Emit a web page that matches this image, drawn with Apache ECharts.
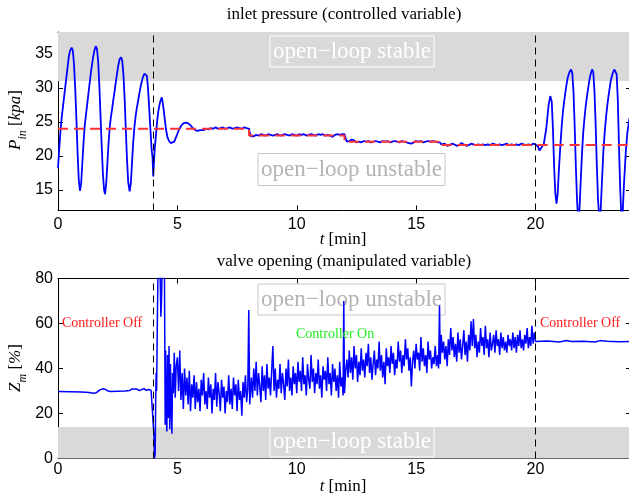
<!DOCTYPE html>
<html><head><meta charset="utf-8">
<script src="https://cdn.jsdelivr.net/npm/echarts@6/dist/echarts.min.js"></script>
<style>html,body{margin:0;padding:0;background:#fff}#c{width:629px;height:497px}</style>
</head><body><div id="c"></div>
<script>
// ---- inlet pressure P_in [kpa] ----
const pinOpenLoop1 = [[0.00,18.2],[0.05,21],[0.10,23.5],[0.15,25.5],[0.20,27],[0.25,28.5],[0.30,30],[0.35,31.5],[0.40,33],[0.45,34.5],[0.50,35.4],[0.57,35.9],[0.62,35.5],[0.67,33.5],[0.72,30],[0.77,25.5],[0.82,20.5],[0.87,16.5],[0.92,14.9],[0.97,16],[1.02,19],[1.07,22],[1.12,24.5],[1.17,26],[1.22,27.5],[1.27,29],[1.32,30.5],[1.37,32],[1.42,33.3],[1.47,34.5],[1.52,35.4],[1.58,36.1],[1.63,35.8],[1.68,34],[1.73,30.5],[1.78,26],[1.83,21.5],[1.88,17.5],[1.93,15],[1.97,14.4],[2.02,16],[2.07,19],[2.12,22],[2.17,24.3],[2.22,25.8],[2.27,27],[2.32,28.3],[2.37,29.5],[2.42,30.8],[2.47,32],[2.52,33.2],[2.58,34.2],[2.64,34.5],[2.69,34],[2.74,32],[2.79,28.5],[2.84,24],[2.89,19.5],[2.94,16.2],[3.00,14.8],[3.05,16],[3.10,19],[3.15,22],[3.20,24.2],[3.25,25.8],[3.30,27],[3.35,28],[3.40,29],[3.45,30],[3.50,30.8],[3.55,31.5],[3.62,32.1],[3.67,32.3],[3.72,31.8],[3.77,30],[3.82,27],[3.87,24],[3.92,21],[3.96,19.8]];
const pinControlled = [[3.99,17],[4.01,18.5],[4.05,21],[4.10,23],[4.15,25],[4.20,26.5],[4.25,27.5],[4.30,28.2],[4.35,28.6],[4.38,28.4],[4.42,27],[4.47,25.5],[4.52,24],[4.58,22.8],[4.65,22.2],[4.72,21.9],[4.80,21.8],[4.87,22.1],[4.95,22.8],[5.05,23.7],[5.15,24.4],[5.25,24.8],[5.35,24.9],[5.45,24.8],[5.55,24.5],[5.65,24.1],[5.75,23.8],[5.85,23.7],[5.95,23.8],
[6.0,23.7],[6.1,23.8],[6.2,24.0],[6.3,23.9],[6.4,24.1],[6.5,24.0],[6.6,24.2],[6.7,24.0],[6.8,24.1],[6.9,24.2],[7.0,24.0],[7.1,24.1],[7.2,24.2],[7.3,24.0],[7.4,24.1],[7.5,24.2],[7.6,24.1],[7.7,24.0],[7.8,24.2],[7.9,24.1],[8.0,24.0],[8.03,23.4],[8.08,22.9],[8.15,23.0],[8.2,22.9],[8.3,23.1],[8.4,23.0],[8.5,23.2],[8.6,23.1],[8.7,23.0],[8.8,23.2],[8.9,23.1],[9.0,23.0],[9.1,23.1],[9.2,23.2],[9.3,23.0],[9.4,23.1],[9.5,23.2],[9.6,23.1],[9.7,23.0],[9.8,23.2],[9.9,23.1],[10.0,23.0],[10.1,23.2],[10.2,23.1],[10.3,23.2],[10.4,23.0],[10.5,23.1],[10.6,23.2],[10.7,23.1],[10.8,23.0],[10.9,23.2],[11.0,23.1],[11.1,23.2],[11.2,23.0],[11.3,23.1],[11.4,23.0],[11.5,22.8],[11.6,23.1],[11.7,23.2],[11.8,23.1],[11.9,23.2],[12.0,23.2],[12.05,22.6],[12.1,22.1],[12.2,22.2],[12.3,22.4],[12.4,22.3],[12.5,22.0],[12.6,22.1],[12.7,22.0],[12.8,22.2],[12.9,22.1],[13.0,22.2],[13.1,22.0],[13.2,22.1],[13.3,22.2],[13.4,22.1],[13.5,22.0],[13.6,22.2],[13.7,22.1],[13.8,22.2],[13.9,22.0],[14.0,22.1],[14.1,22.2],[14.2,22.1],[14.3,22.0],[14.4,22.2],[14.5,22.1],[14.6,22.0],[14.7,21.9],[14.8,21.8],[14.9,22.0],[15.0,22.2],[15.1,22.1],[15.2,22.2],[15.3,22.0],[15.4,22.1],[15.5,22.2],[15.6,22.1],[15.7,22.2],[15.8,22.1],[15.9,22.0],[16.0,22.0],[16.05,21.7],[16.1,21.6],[16.2,21.8],[16.3,21.5],[16.4,21.6],[16.5,21.8],[16.6,21.7],[16.7,21.5],[16.8,21.6],[16.9,21.9],[17.0,21.7],[17.1,21.5],[17.2,21.6],[17.3,21.8],[17.4,21.7],[17.5,21.6],[17.6,21.7],[17.7,21.6],[17.8,21.7],[17.9,21.6],[18.0,21.7],[18.1,21.6],[18.2,21.8],[18.3,21.7],[18.4,21.6],[18.5,21.7],[18.6,21.6],[18.7,21.7],[18.8,21.8],[18.9,21.6],[19.0,21.7],[19.1,21.6],[19.2,21.7],[19.3,21.6],[19.4,21.8],[19.5,21.7],[19.6,21.6],[19.7,21.7],[19.8,21.6],[19.9,21.8],[20.0,21.7]];
const pinOpenLoop2 = [[20.1,21.4],[20.17,20.8],[20.25,20.9],[20.35,21.8],[20.45,24],[20.55,27.5],[20.62,28.8],[20.68,28],[20.73,24],[20.78,18.5],[20.83,14.5],[20.88,13.0],[20.93,14.5],[20.98,18],[21.05,22],[21.1,24.5],[21.15,26.5],[21.2,28],[21.25,29.3],[21.3,30.5],[21.35,31.5],[21.42,32.3],[21.49,32.7],[21.54,32.2],[21.59,29.5],[21.64,24.5],[21.69,18.5],[21.74,13.5],[21.79,10.5],[21.84,12],[21.89,16],[21.95,20.5],[22.0,23.5],[22.05,25.5],[22.1,27.2],[22.15,28.6],[22.2,29.8],[22.25,31],[22.3,31.9],[22.37,32.7],[22.42,32.3],[22.47,29.5],[22.52,24.5],[22.57,18.5],[22.62,13.5],[22.68,10.5],[22.73,12],[22.78,16],[22.84,20.5],[22.9,23.5],[22.95,25.5],[23.0,27.2],[23.05,28.6],[23.1,29.8],[23.15,31],[23.22,32],[23.3,32.7],[23.35,32.8],[23.4,32],[23.45,28],[23.5,21],[23.55,15],[23.6,11],[23.65,11.5],[23.7,15.5],[23.78,20.5],[23.85,23.5],[23.92,25.2],[24.0,26.5]];
const pinSetpoint = [[0,24],[8,24],[8,23],[12,23],[12,22.1],[16,22.1],[16,21.6],[24,21.6]];

// ---- valve opening Z_m [%] ----
const zmOff1 = [[0.0,29.8],[0.5,29.7],[1.0,29.6],[1.3,29.3],[1.5,29.0],[1.6,29.2],[1.75,30.5],[1.9,31.0],[2.0,30.6],[2.1,30.0],[2.2,29.8],[2.5,29.9],[2.8,30.0],[3.0,30.2],[3.1,30.9],[3.15,30.1],[3.3,30.9],[3.4,30.2],[3.5,30.6],[3.6,31.0],[3.7,30.3],[3.8,30.7],[3.9,30.2],[3.98,30.0]];
const zmOn = [[4.00,30],[4.02,10],[4.04,0],[4.07,2],[4.09,25],[4.11,38],[4.13,30],[4.16,60],[4.19,85],[4.23,90],[4.27,86],[4.31,63],[4.34,72],[4.37,90],[4.42,92],[4.46,80],[4.49,15],[4.51,48],[4.53,20],[4.56,12],[4.59,46],[4.62,18],[4.65,50],[4.68,13],[4.71,42],[4.74,24],[4.77,11],[4.80,38],[4.83,29],[4.87,47],[4.91,27],[4.95,41],
[5.00,45],[5.05,30],[5.10,48],[5.15,26],[5.20,38],[5.25,22],[5.30,40],[5.35,28],[5.40,36],[5.45,24],[5.50,39],[5.55,21],[5.60,33],[5.65,27],[5.70,37],[5.75,22],[5.80,34],[5.85,25],[5.90,31],[5.95,21],[6.00,35],[6.05,28],[6.10,38],[6.15,24],[6.20,30],[6.25,22],[6.30,36],[6.35,27],[6.40,33],[6.45,20],[6.50,31],[6.55,26],[6.60,38],[6.65,23],[6.70,34],[6.75,29],[6.80,21],[6.85,35],[6.90,27],[6.95,32],[7.00,20],[7.05,30],[7.10,25],[7.15,37],[7.20,24],[7.25,31],[7.30,22],[7.35,36],[7.40,28],[7.45,33],[7.50,21],[7.55,35],[7.60,26],[7.65,30],[7.70,19],[7.75,34],[7.80,27],[7.85,37],[7.90,25],[7.95,31],[7.99,66],[8.03,24],[8.10,36],[8.15,27],[8.20,40],[8.25,30],[8.30,43],[8.35,28],[8.40,38],[8.45,32],[8.50,25],[8.55,41],[8.60,30],[8.65,37],[8.70,26],[8.75,42],[8.80,31],[8.85,36],[8.90,28],[8.95,39],[9.00,50],[9.05,30],[9.10,40],[9.15,27],[9.20,35],[9.25,31],[9.30,42],[9.35,29],[9.40,38],[9.45,33],[9.50,26],[9.55,40],[9.60,32],[9.65,44],[9.70,30],[9.75,36],[9.80,28],[9.85,41],[9.90,33],[9.95,38],[10.00,29],[10.05,43],[10.10,34],[10.15,39],[10.20,30],[10.25,45],[10.30,33],[10.35,37],[10.40,28],[10.45,42],[10.50,35],[10.55,31],[10.60,46],[10.65,34],[10.70,40],[10.75,29],[10.80,38],[10.85,33],[10.90,44],[10.95,31],[11.00,37],[11.05,27],[11.10,41],[11.15,35],[11.20,39],[11.25,30],[11.30,45],[11.35,33],[11.40,38],[11.45,28],[11.50,42],[11.55,34],[11.60,40],[11.65,30],[11.70,37],[11.75,27],[11.80,43],[11.85,32],[11.90,36],[11.94,28],[11.97,70],[12.00,29],[12.05,39],[12.10,44],[12.15,36],[12.20,48],[12.25,38],[12.30,45],[12.35,35],[12.40,50],[12.45,40],[12.50,46],[12.55,34],[12.60,43],[12.65,37],[12.70,49],[12.75,39],[12.80,44],[12.85,36],[12.90,47],[12.95,41],[13.00,51],[13.05,38],[13.10,45],[13.15,35],[13.20,42],[13.25,48],[13.30,37],[13.35,44],[13.40,40],[13.45,52],[13.50,39],[13.55,46],[13.60,36],[13.65,43],[13.70,33],[13.75,49],[13.80,41],[13.85,45],[13.90,38],[13.95,50],[14.00,42],[14.05,47],[14.10,37],[14.15,44],[14.20,40],[14.25,52],[14.30,43],[14.35,48],[14.40,38],[14.45,46],[14.50,41],[14.55,53],[14.60,44],[14.65,49],[14.70,39],[14.75,45],[14.80,32],[14.85,43],[14.90,48],[14.95,40],[15.00,51],[15.05,44],[15.10,47],[15.15,39],[15.20,54],[15.25,43],[15.30,49],[15.35,41],[15.40,46],[15.45,38],[15.50,52],[15.55,44],[15.60,48],[15.65,40],[15.70,45],[15.75,42],[15.80,50],[15.85,41],[15.90,46],[15.94,40],[15.98,68],[16.01,42],[16.05,55],[16.10,47],[16.15,52],[16.20,44],[16.25,50],[16.30,41],[16.35,53],[16.40,46],[16.45,58],[16.50,48],[16.55,54],[16.60,45],[16.65,51],[16.70,43],[16.75,56],[16.80,47],[16.85,53],[16.90,44],[16.95,50],[17.00,57],[17.05,46],[17.10,52],[17.15,43],[17.20,55],[17.25,48],[17.30,61],[17.35,50],[17.40,62],[17.45,49],[17.50,55],[17.55,45],[17.60,52],[17.65,47],[17.70,58],[17.75,50],[17.80,54],[17.85,46],[17.90,59],[17.95,49],[18.00,53],[18.05,45],[18.10,56],[18.15,48],[18.20,51],[18.25,55],[18.30,47],[18.35,57],[18.40,50],[18.45,53],[18.50,46],[18.55,56],[18.60,49],[18.65,54],[18.70,48],[18.75,52],[18.80,47],[18.85,55],[18.90,50],[18.95,53],[19.00,48],[19.05,56],[19.10,49],[19.15,54],[19.20,47],[19.25,55],[19.30,50],[19.35,57],[19.40,49],[19.45,53],[19.50,48],[19.55,55],[19.60,51],[19.65,58],[19.70,49],[19.75,54],[19.80,50],[19.85,59],[19.90,51],[19.95,56],[20.00,52]];
const zmOff2 = [[20.05,52],[20.5,52.2],[21.0,51.8],[21.3,52.4],[21.5,52.0],[22.0,52.1],[22.5,51.8],[22.7,52.4],[23.0,52.1],[23.5,51.9],[24.0,52.0]];

const switchTimes = [4, 20];
const pinStableBand = [31, 38.2];
const zmStableBand = [0, 14];

const serif = 'Liberation Serif';
const sans = 'Liberation Sans';

function xAxes(grid, margin) {
  return [
    {gridIndex: grid, type: 'value', min: 0, max: 24, interval: 5, position: 'bottom',
     axisLine: {onZero: false, lineStyle: {color: '#000', width: 1}},
     axisTick: {inside: true, length: 5, lineStyle: {color: '#000'}},
     axisLabel: {fontFamily: sans, fontSize: 16, color: '#000', margin: margin,
       formatter: v => (v % 5 === 0 ? String(v) : '')},
     splitLine: {show: false}},
    {gridIndex: grid, type: 'value', min: 0, max: 24, interval: 5, position: 'top',
     axisLine: {onZero: false, lineStyle: {color: '#000', width: 1}},
     axisTick: {inside: true, length: 5, lineStyle: {color: '#000'}},
     axisLabel: {show: false}, splitLine: {show: false}}
  ];
}
function yAxes(grid, min, max, interval) {
  const base = {gridIndex: grid, type: 'value', min: min, max: max};
  if (interval) base.interval = interval;
  return [
    Object.assign({}, base, {position: 'left',
     axisLine: {show: true, onZero: false, lineStyle: {color: '#000', width: 1}},
     axisTick: {show: true, inside: true, length: 5, lineStyle: {color: '#000'}},
     axisLabel: {fontFamily: sans, fontSize: 16, color: '#000', margin: 5,
       formatter: v => (v % 5 === 0 ? String(v) : '')},
     splitLine: {show: false}}),
    Object.assign({}, base, {position: 'right',
     axisLine: {show: true, onZero: false, lineStyle: {color: '#000', width: 1}},
     axisTick: {show: true, inside: true, length: 5, lineStyle: {color: '#000'}},
     axisLabel: {show: false}, splitLine: {show: false}})
  ];
}

function bandSeries(x, y, band) {
  return {
    type: 'line', xAxisIndex: x, yAxisIndex: y, data: [], z: 1, silent: true,
    markArea: {silent: true, itemStyle: {color: '#d9d9d9'},
      data: [[{xAxis: 0, yAxis: band[0]}, {xAxis: 24, yAxis: band[1]}]]},
    markLine: {silent: true, symbol: ['none', 'none'], label: {show: false},
      lineStyle: {color: '#000', type: [7, 5], width: 1},
      data: switchTimes.map(t => ({xAxis: t}))}
  };
}

function boxLabel(cx, cy, w, h, text, textColor, borderColor) {
  return [
    {type: 'rect', z: 2, shape: {x: cx - w / 2, y: cy - h / 2, width: w, height: h},
     style: {fill: 'none', stroke: borderColor, lineWidth: 1}},
    {type: 'text', z: 2, x: cx, y: cy,
     style: {text: text, fill: textColor, font: '23px "Liberation Serif"', align: 'center', verticalAlign: 'middle'}}
  ];
}

const chart = echarts.init(document.getElementById('c'), null, {renderer: 'canvas'});
chart.setOption({
  animation: false,
  backgroundColor: '#fff',
  grid: [
    {left: 58, top: 32, width: 573, height: 178.5, outerBoundsMode: 'none', containLabel: false},
    {left: 58, top: 278.5, width: 573, height: 180, outerBoundsMode: 'none', containLabel: false}
  ],
  xAxis: [].concat(xAxes(0, 6), xAxes(1, 3)),
  yAxis: [].concat(yAxes(0, 12, 38.2, null), yAxes(1, 0, 80, 20)),
  series: [
    bandSeries(0, 0, pinStableBand),
    {type: 'line', xAxisIndex: 0, yAxisIndex: 0, z: 3, showSymbol: false, symbol: 'none',
     data: pinOpenLoop1.concat(pinControlled, pinOpenLoop2),
     lineStyle: {color: '#0000ff', width: 1.8}},
    {type: 'line', xAxisIndex: 0, yAxisIndex: 0, z: 4, showSymbol: false, symbol: 'none',
     data: pinSetpoint, lineStyle: {color: '#ff3333', width: 2, type: [10, 6]}},
    bandSeries(2, 2, zmStableBand),
    {type: 'line', xAxisIndex: 2, yAxisIndex: 2, z: 3, showSymbol: false, symbol: 'none',
     data: zmOff1.concat(zmOn, zmOff2),
     lineStyle: {color: '#0000ff', width: 1.5}}
  ],
  graphic: [].concat(
    boxLabel(352, 51.5, 164, 31, 'open−loop stable', '#ffffff', '#ffffff'),
    boxLabel(351.5, 169.5, 187, 32, 'open−loop unstable', '#b4b4b4', '#c8c8c8'),
    boxLabel(351.5, 299.5, 187, 31, 'open−loop unstable', '#b4b4b4', '#c8c8c8'),
    boxLabel(352, 441.5, 164, 31, 'open−loop stable', '#ffffff', '#ffffff'),
    [
      {type: 'text', z: 5, x: 344, y: 15, style: {text: 'inlet pressure (controlled variable)', fill: '#000', font: '17px "Liberation Serif"', align: 'center', verticalAlign: 'middle'}},
      {type: 'text', z: 5, x: 344, y: 262, style: {text: 'valve opening (manipulated variable)', fill: '#000', font: '17px "Liberation Serif"', align: 'center', verticalAlign: 'middle'}},
      {type: 'text', z: 5, x: 343, y: 240, style: {text: '{i|t} [min]', fill: '#000', font: '17px "Liberation Serif"', align: 'center', verticalAlign: 'middle',
        rich: {i: {fontFamily: serif, fontStyle: 'italic', fontSize: 17, fill: '#000'}}}},
      {type: 'text', z: 5, x: 343, y: 487, style: {text: '{i|t} [min]', fill: '#000', font: '17px "Liberation Serif"', align: 'center', verticalAlign: 'middle',
        rich: {i: {fontFamily: serif, fontStyle: 'italic', fontSize: 17, fill: '#000'}}}},
      {type: 'text', z: 5, x: 16, y: 120, rotation: Math.PI / 2, style: {text: '{i|P}{s|in}{n| [}{i|kpa}{n|]}', align: 'center', verticalAlign: 'middle',
        rich: {i: {fontFamily: serif, fontStyle: 'italic', fontSize: 17, lineHeight: 26, fill: '#000'},
               n: {fontFamily: serif, fontSize: 17, lineHeight: 26, fill: '#000'},
               s: {fontFamily: serif, fontStyle: 'italic', fontSize: 12, lineHeight: 12, verticalAlign: 'bottom', fill: '#000'}}}},
      {type: 'text', z: 5, x: 16, y: 368, rotation: Math.PI / 2, style: {text: '{i|Z}{s|m}{n| [}{i|%}{n|]}', align: 'center', verticalAlign: 'middle',
        rich: {i: {fontFamily: serif, fontStyle: 'italic', fontSize: 17, lineHeight: 26, fill: '#000'},
               n: {fontFamily: serif, fontSize: 17, lineHeight: 26, fill: '#000'},
               s: {fontFamily: serif, fontStyle: 'italic', fontSize: 12, lineHeight: 12, verticalAlign: 'bottom', fill: '#000'}}}},
      {type: 'text', z: 5, x: 62, y: 323, style: {text: 'Controller Off', fill: '#ff1a1a', font: '14px "Liberation Serif"', align: 'left', verticalAlign: 'middle'}},
      {type: 'text', z: 5, x: 296, y: 334, style: {text: 'Controller On', fill: '#22ee22', font: '14px "Liberation Serif"', align: 'left', verticalAlign: 'middle'}},
      {type: 'text', z: 5, x: 540, y: 323, style: {text: 'Controller Off', fill: '#ff1a1a', font: '14px "Liberation Serif"', align: 'left', verticalAlign: 'middle'}}
    ]
  )
});
</script></body></html>
